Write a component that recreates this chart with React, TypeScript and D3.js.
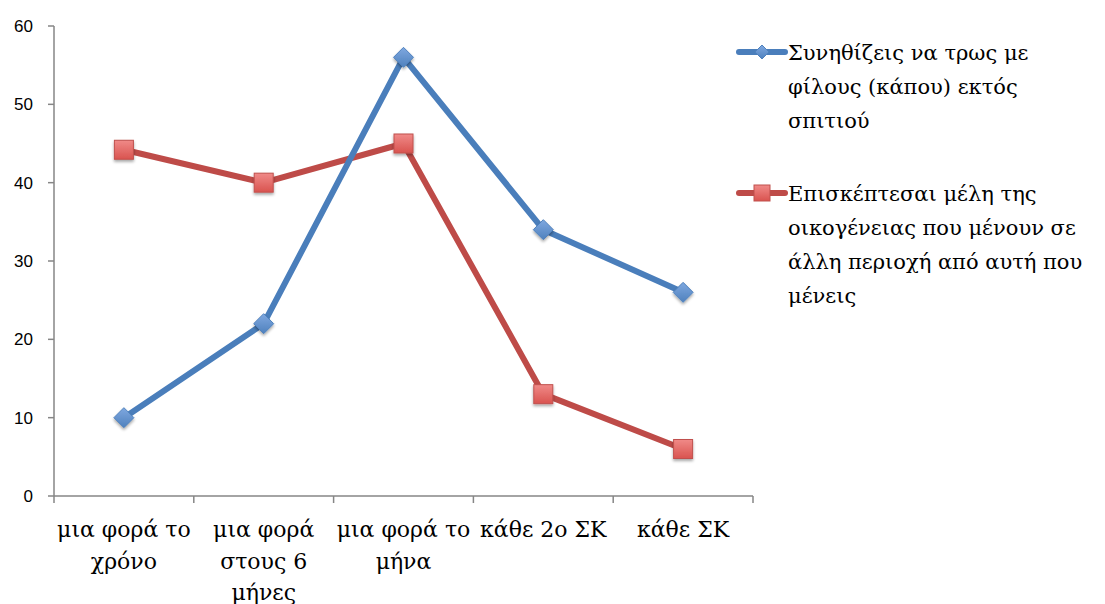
import React from "react";
import * as d3 from "d3";

const categories: string[][] = [
  ["μια φορά το", "χρόνο"],
  ["μια φορά", "στους 6", "μήνες"],
  ["μια φορά το", "μήνα"],
  ["κάθε 2ο ΣΚ"],
  ["κάθε ΣΚ"],
];
const seriesBlue = [10, 22, 56, 34, 26];
const seriesRed = [44.2, 40, 45, 13, 6];
const yTicks = [0, 10, 20, 30, 40, 50, 60];
const legendBlue = ["Συνηθίζεις να τρως με", "φίλους (κάπου) εκτός", "σπιτιού"];
const legendRed = [
  "Επισκέπτεσαι μέλη της",
  "οικογένειας που μένουν σε",
  "άλλη περιοχή από αυτή που",
  "μένεις",
];

const W = 1105;
const H = 604;
const left = 54;
const right = 753;
const top = 26;
const bottom = 496;

const BLUE = "#4a7ebb";
const RED = "#be4b48";
const serif = "DejaVu Serif";
const sans = "Liberation Sans";

export default function App() {
  const idx = categories.map((_, i) => String(i));
  const x = d3.scaleBand<string>().domain(idx).range([left, right]);
  const y = d3.scaleLinear().domain([0, 60]).range([bottom, top]);
  const cx = (i: number) => (x(String(i)) as number) + x.bandwidth() / 2;
  const line = d3
    .line<number>()
    .x((_, i) => cx(i))
    .y((v) => y(v));

  const diamond = (px: number, py: number, r: number) =>
    `M${px},${py - r}L${px + r},${py}L${px},${py + r}L${px - r},${py}Z`;

  const boundaries = d3.range(categories.length + 1).map((i) =>
    i < categories.length ? (x(String(i)) as number) : right
  );

  return (
    <svg
      width={W}
      height={H}
      style={{ position: "absolute", left: 0, top: 0, background: "#fff" }}
    >
      <defs>
        <filter id="sh" x="-50%" y="-50%" width="200%" height="200%">
          <feGaussianBlur in="SourceAlpha" stdDeviation="1.5" />
          <feOffset dx="0" dy="2" result="b" />
          <feComponentTransfer>
            <feFuncA type="linear" slope="0.35" />
          </feComponentTransfer>
          <feMerge>
            <feMergeNode />
            <feMergeNode in="SourceGraphic" />
          </feMerge>
        </filter>
        <linearGradient id="gRed" x1="0" y1="0" x2="0" y2="1">
          <stop offset="0" stopColor="#f08a88" />
          <stop offset="1" stopColor="#d9534f" />
        </linearGradient>
        <linearGradient id="gBlue" x1="0" y1="0" x2="0" y2="1">
          <stop offset="0" stopColor="#7fa8e0" />
          <stop offset="1" stopColor="#4f81bd" />
        </linearGradient>
      </defs>

      {/* axes */}
      <line x1={left} y1={top} x2={left} y2={bottom} stroke="#868686" strokeWidth={1.5} />
      <line x1={left} y1={bottom} x2={right} y2={bottom} stroke="#868686" strokeWidth={1.5} />
      {yTicks.map((t) => (
        <g key={t}>
          <line x1={left - 6} x2={left} y1={y(t)} y2={y(t)} stroke="#868686" strokeWidth={1.5} />
          <text
            x={left - 21}
            y={y(t)}
            dy="0.35em"
            textAnchor="end"
            fontFamily={sans}
            fontSize={17}
            fill="#000"
          >
            {t}
          </text>
        </g>
      ))}
      {boundaries.map((b, i) => (
        <line key={i} x1={b} x2={b} y1={bottom} y2={bottom + 7} stroke="#868686" strokeWidth={1.5} />
      ))}
      {categories.map((lines, i) => (
        <text
          key={i}
          x={cx(i)}
          y={537}
          textAnchor="middle"
          fontFamily={serif}
          fontSize={22}
          fill="#000"
        >
          {lines.map((l, j) => (
            <tspan key={j} x={cx(i)} dy={j === 0 ? 0 : 31.5}>
              {l}
            </tspan>
          ))}
        </text>
      ))}

      {/* series */}
      <path d={line(seriesRed) as string} fill="none" stroke={RED} strokeWidth={6} strokeLinejoin="round" />
      <path d={line(seriesBlue) as string} fill="none" stroke={BLUE} strokeWidth={6} strokeLinejoin="round" />
      {seriesBlue.map((v, i) => (
        <path key={"b" + i} d={diamond(cx(i), y(v), 10)} fill="url(#gBlue)" stroke="#4f81bd" strokeWidth={1} filter="url(#sh)" />
      ))}
      {seriesRed.map((v, i) => (
        <rect
          key={"r" + i}
          x={cx(i) - 9.5}
          y={y(v) - 9.5}
          width={19}
          height={19}
          fill="url(#gRed)"
          stroke="#c0504d"
          strokeWidth={1}
          filter="url(#sh)"
        />
      ))}

      {/* legend */}
      <g>
        <line x1={739} x2={785} y1={52} y2={52} stroke={BLUE} strokeWidth={6} strokeLinecap="round" />
        <path d={diamond(762, 52, 7)} fill="url(#gBlue)" stroke="#4f81bd" strokeWidth={1} />
        <text fontFamily={serif} fontSize={21} fill="#000" x={788} y={60}>
          {legendBlue.map((l, j) => (
            <tspan key={j} x={788} dy={j === 0 ? 0 : 34}>
              {l}
            </tspan>
          ))}
        </text>
        <line x1={739} x2={785} y1={193} y2={193} stroke={RED} strokeWidth={6} strokeLinecap="round" />
        <rect x={754} y={185} width={16} height={16} fill="url(#gRed)" stroke="#c0504d" strokeWidth={1} />
        <text fontFamily={serif} fontSize={21} fill="#000" x={788} y={201}>
          {legendRed.map((l, j) => (
            <tspan key={j} x={788} dy={j === 0 ? 0 : 34}>
              {l}
            </tspan>
          ))}
        </text>
      </g>
    </svg>
  );
}
